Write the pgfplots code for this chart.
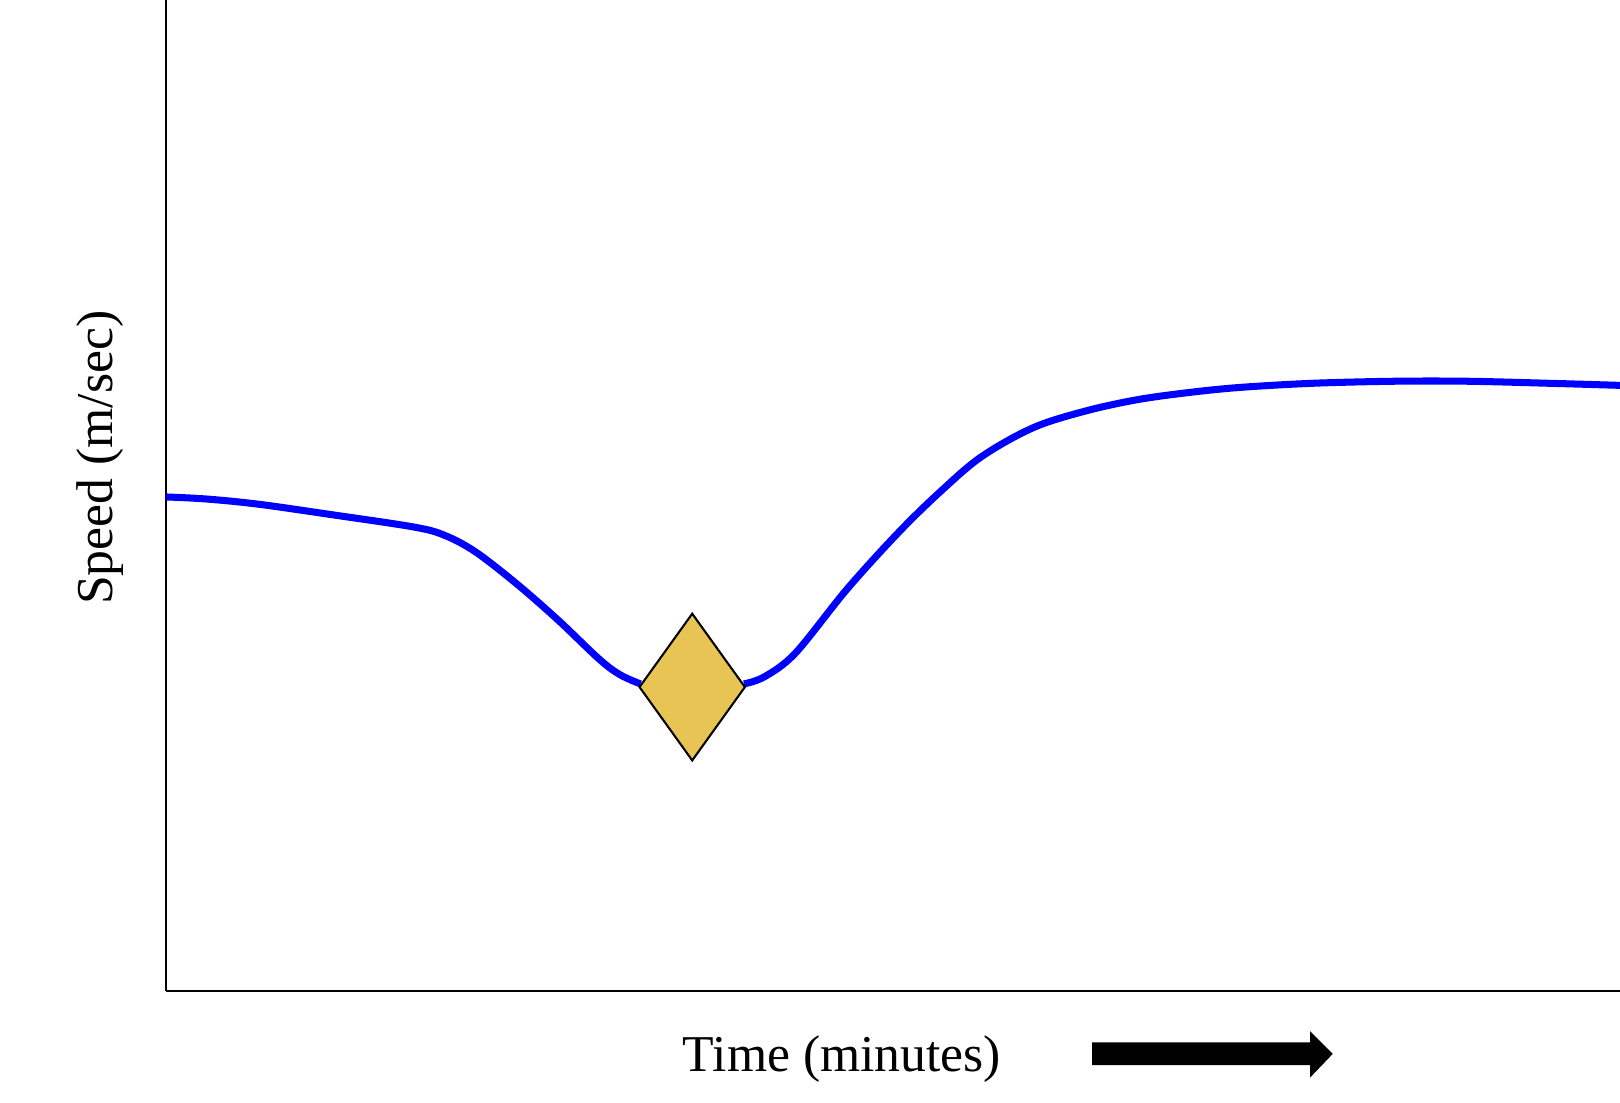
\documentclass[border=0pt]{standalone}
\usepackage{pgfplots}
\pgfplotsset{compat=1.18}
\usepackage{fontspec}
\setmainfont{Liberation Serif}
\definecolor{gold}{HTML}{E8C454}
\begin{document}
\begin{tikzpicture}
\begin{axis}[
  scale only axis,
  width=703.5pt, height=479.5pt,
  xmin=161, xmax=1568, ymin=0, ymax=959,
  axis lines=left,
  axis line style={line width=1pt, -},
  xtick=\empty, ytick=\empty,
  clip=false,
  xlabel={Time (minutes)},
  ylabel={Speed (m/sec)},
  label style={font=\fontsize{25}{30}\selectfont},
  xlabel style={at={(rel axis cs:0.4648,0)}, anchor=center, yshift=-33pt},
  ylabel style={at={(rel axis cs:0,0.538)}, anchor=center, yshift=32pt},
]
\addplot[blue, line width=3.4pt, smooth, tension=0.55] coordinates {
  (161,478) (200,476) (250,471) (320,461) (400,449) (430,441) (460,425)
  (500,394) (540,359) (580,321) (600,306) (620,297)
};
\addplot[blue, line width=3.4pt, smooth, tension=0.55] coordinates {
  (720,297) (740,304) (770,327) (820,389) (870,444) (910,483) (950,517)
  (1000,545) (1050,561) (1100,572) (1150,579) (1200,584) (1270,588)
  (1350,590) (1420,590) (1500,588) (1568,586)
};
\addplot[fill=gold, draw=black, line width=1pt] coordinates {
  (619,294) (670,365) (721,294) (670,223)
} -- cycle;
\end{axis}
\fill[black] (448pt,-25pt) -- (553.5pt,-25pt) -- (553.5pt,-19.5pt) -- (564.5pt,-30.5pt)
  -- (553.5pt,-42pt) -- (553.5pt,-36pt) -- (448pt,-36pt) -- cycle;
\pgfresetboundingbox
\path (-80.5pt,-54pt) rectangle (703.5pt,479.5pt);
\end{tikzpicture}
\end{document}
